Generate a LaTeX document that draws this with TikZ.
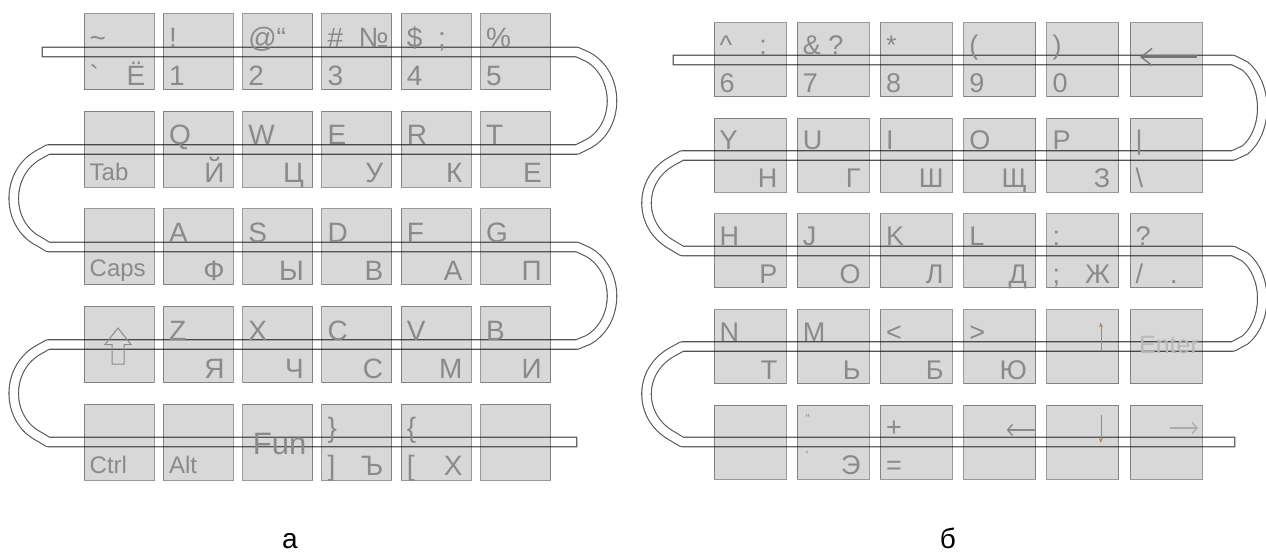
\documentclass[tikz,border=0pt]{standalone}
\usepackage{fontspec}
\setmainfont{Liberation Sans}
\usetikzlibrary{arrows.meta,positioning}
\definecolor{keyfill}{HTML}{D8D8D8}
\definecolor{keyline}{HTML}{9A9A9A}
\definecolor{keyink}{HTML}{8A8A8A}
\definecolor{trackink}{HTML}{555555}
\newcommand{\keyfont}{\fontsize{28}{28}\selectfont}
\newcommand{\smallkeyfont}{\fontsize{24}{24}\selectfont}
\newcommand{\tinykeyfont}{\fontsize{12}{12}\selectfont}
\tikzset{
  keya/.style={draw=keyline, fill=keyfill, line width=1pt, minimum width=70pt, minimum height=76pt, inner sep=0pt},
  keyb/.style={keya, minimum width=72pt, minimum height=74pt},
  lbl/.style={inner sep=0pt, text=keyink, font=\keyfont},
  toplbl/.style={lbl, anchor=base west, xshift=6pt, yshift=-34pt},
  botlbl/.style={lbl, anchor=base west, xshift=6pt, yshift=5pt},
  brlbl/.style={lbl, anchor=base east, xshift=-9pt, yshift=5pt},
  track/.style={draw=trackink, line width=1.1pt, double=white, double distance=8.4pt, line cap=rect, line join=round},
  bigarrow/.style={-{Straight Barb[length=11pt,width=17pt,line width=1.3pt]}, line width=3pt, draw=keyink!85!black},
  keyarrow/.style={-{Straight Barb[length=5pt,width=11pt,line width=1.4pt]}, line width=1.6pt, draw=keyink},
  thinarrow/.style={-{Stealth[length=5pt,width=4pt]}, line width=0.6pt, draw=keyink!70!orange},
  caption/.style={font=\keyfont, anchor=base, inner sep=0pt}
}
\newcommand{\keytext}[4]{%
  \node[toplbl] (#1-t) at (#1.north west) {#2};
  \node[botlbl] (#1-l) at (#1.south west) {#3};
  \node[brlbl] (#1-r) at (#1.south east) {#4};}

\begin{document}
\begin{tikzpicture}[x=1pt, y=-1pt]
  \useasboundingbox (0,0) rectangle (1266,553);
  % serpentine tracks, under the keys
  \draw[track] (47,52) -- (577,52) -- (588,57) .. controls (620,75) and (620,127) .. (588,144)
    -- (577,149.5) -- (48,149.5) -- (40,154) .. controls (5,172) and (5,225) .. (40,242)
    -- (48,247) -- (577,247) -- (588,252) .. controls (620,270) and (620,322) .. (588,340)
    -- (577,344.5) -- (48,344.5) -- (40,349) .. controls (5,367) and (5,420) .. (40,437)
    -- (48,442) -- (572,442);
  \draw[track] (678,60) -- (1233,60) -- (1245,66) .. controls (1268,85) and (1268,131) .. (1245,150)
    -- (1233,155.5) -- (682,155.5) -- (672,161) .. controls (638,180) and (638,226) .. (672,245)
    -- (682,251) -- (1233,251) -- (1245,257) .. controls (1268,276) and (1268,321) .. (1245,340)
    -- (1233,346.5) -- (682,346.5) -- (672,352) .. controls (638,371) and (638,417) .. (672,436)
    -- (682,442) -- (1230,442);

  % keys, multiplied over the tracks
  \begin{scope}[blend mode=multiply]
  \foreach \row in {1,...,5}
    \foreach \col in {1,...,6}
      \node[keya] (a\row\col) at ({119+79.3*(\col-1)}, {52+97.5*(\row-1)}) {};
  \foreach \row in {1,...,5}
    \foreach \col in {1,...,6}
      \node[keyb] (b\row\col) at ({750+83.2*(\col-1)}, {60+95.5*(\row-1)}) {};
  \end{scope}

  % left block (a)
  \keytext{a11}{\textasciitilde}{\textasciigrave}{Ё}
  \keytext{a12}{!}{1}{}
  \keytext{a13}{@“}{2}{}
  \keytext{a14}{\#~~№}{3}{}
  \keytext{a15}{\$~~;}{4}{}
  \keytext{a16}{\%}{5}{}
  \node[botlbl, font=\smallkeyfont, yshift=2pt] (a21-l) at (a21.south west) {Tab};
  \keytext{a22}{Q}{}{Й}
  \keytext{a23}{W}{}{Ц}
  \keytext{a24}{E}{}{У}
  \keytext{a25}{R}{}{К}
  \keytext{a26}{T}{}{Е}
  \node[botlbl, font=\smallkeyfont, yshift=4pt] (a31-l) at (a31.south west) {Caps};
  \keytext{a32}{A}{}{Ф}
  \keytext{a33}{S}{}{Ы}
  \keytext{a34}{D}{}{В}
  \keytext{a35}{F}{}{А}
  \keytext{a36}{G}{}{П}
  \draw[keyink, line width=1pt, shift={(a41.center)}]
    (-1,-16.5) -- (12,0) -- (5,0) -- (5,19.5) -- (-7,19.5) -- (-7,0) -- (-14,0) -- cycle;
  \keytext{a42}{Z}{}{Я}
  \keytext{a43}{X}{}{Ч}
  \keytext{a44}{C}{}{С}
  \keytext{a45}{V}{}{М}
  \keytext{a46}{B}{}{И}
  \node[botlbl, font=\smallkeyfont, yshift=2pt] (a51-l) at (a51.south west) {Ctrl};
  \node[botlbl, font=\smallkeyfont, yshift=2pt] (a52-l) at (a52.south west) {Alt};
  \node[lbl, font=\fontsize{31}{31}\selectfont, anchor=base] (a53-c) at ([xshift=2pt, yshift=-12pt]a53.center) {Fun};
  \keytext{a54}{\}}{]}{Ъ}
  \keytext{a55}{\{}{[}{Х}

  % right block (b)
  \begin{scope}[toplbl/.append style={yshift=2pt}, lbl/.append style={font=\fontsize{27}{27}\selectfont}]
  \keytext{b11}{\textasciicircum\quad:}{6}{}
  \keytext{b12}{\& ?}{7}{}
  \keytext{b13}{*}{8}{}
  \keytext{b14}{(}{9}{}
  \keytext{b15}{)}{0}{}
  \keytext{b21}{Y}{}{Н}
  \keytext{b22}{U}{}{Г}
  \keytext{b23}{I}{}{Ш}
  \keytext{b24}{O}{}{Щ}
  \keytext{b25}{P}{}{З}
  \keytext{b26}{\textbar}{\textbackslash}{}
  \keytext{b31}{H}{}{Р}
  \keytext{b32}{J}{}{О}
  \keytext{b33}{K}{}{Л}
  \keytext{b34}{L}{}{Д}
  \keytext{b35}{:}{;}{Ж}
  \keytext{b36}{?}{/\quad.}{}
  \keytext{b41}{N}{}{Т}
  \keytext{b42}{M}{}{Ь}
  \keytext{b43}{<}{}{Б}
  \keytext{b44}{>}{}{Ю}
  \node[lbl, text=keyink!60!white, font=\fontsize{25}{25}\selectfont] (b46-c) at ([xshift=3pt, yshift=1pt]b46.center) {Enter};
  \node[lbl, font=\tinykeyfont, anchor=north west] (b52-t) at ([xshift=9pt, yshift=-10pt]b52.north west) {“};
  \node[lbl, font=\tinykeyfont, anchor=north west] (b52-l) at ([xshift=9pt, yshift=28pt]b52.south west) {\textquotesingle};
  \keytext{b52}{}{}{Э}
  \keytext{b53}{+}{=}{}
  \end{scope}

  % small arrow glyphs
  \coordinate (b45-s) at ([xshift=18pt, yshift=-4pt]b45.center);
  \coordinate (b45-e) at ([xshift=18pt, yshift=24pt]b45.center);
  \draw[thinarrow] (b45-s) -- (b45-e);
  \coordinate (b55-s) at ([xshift=18pt, yshift=27pt]b55.center);
  \coordinate (b55-e) at ([xshift=18pt, yshift=-1pt]b55.center);
  \draw[thinarrow] (b55-s) -- (b55-e);
  \coordinate (b54-s) at ([xshift=36pt, yshift=12pt]b54.center);
  \coordinate (b54-e) at ([xshift=7pt, yshift=12pt]b54.center);
  \draw[keyarrow] (b54-s) -- (b54-e);
  \coordinate (b56-s) at ([xshift=4pt, yshift=14pt]b56.center);
  \coordinate (b56-e) at ([xshift=32pt, yshift=14pt]b56.center);
  \draw[keyarrow, draw=keyink!70!white] (b56-s) -- (b56-e);

  \coordinate (b16-s) at ([xshift=31pt, yshift=3pt]b16.center);
  \coordinate (b16-e) at ([xshift=-26pt, yshift=3pt]b16.center);
  \draw[bigarrow] (b16-s) -- (b16-e);

  \node[caption] (capa) at (290,548) {а};
  \node[caption] (capb) at (948,548) {б};
\end{tikzpicture}
\end{document}
